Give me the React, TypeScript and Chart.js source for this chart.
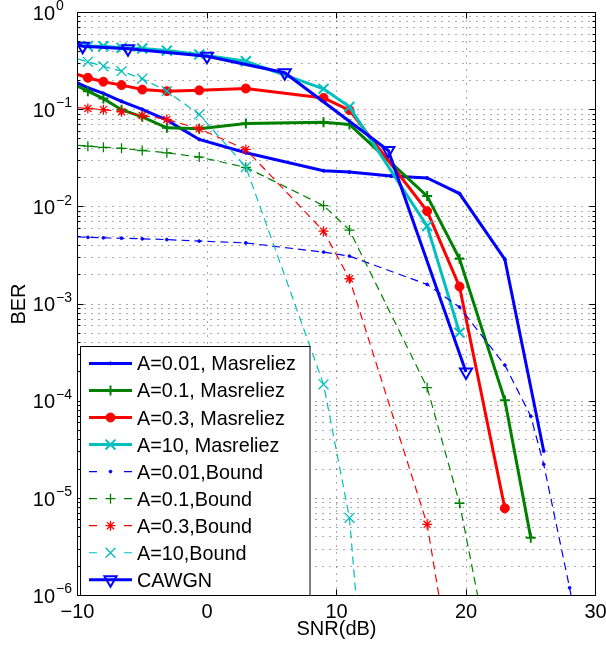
import React, { useEffect, useRef } from 'react';
import { Chart, registerables } from 'chart.js';
import { drawPoint } from 'chart.js/helpers';

Chart.register(...registerables);

// ---------- tick labels ----------
const xTickValues = [-10, 0, 10, 20, 30];
const yDecadeExponents = [0, -1, -2, -3, -4, -5, -6];

// ---------- series data ----------
const snrA001Mas = [-10, -9.2, -8, -6.6, -5, -3.1, -0.6, 3, 9, 11, 14.2, 17, 19.5, 23, 26];
const berA001Mas = [0.189, 0.168, 0.147, 0.122, 0.1005, 0.078, 0.0494, 0.036, 0.0235, 0.0228, 0.0208, 0.0198, 0.0137, 0.00288, 3.07e-5];

const snrA01Mas = [-10, -9.2, -8, -6.6, -5, -3.1, -0.6, 3, 9, 11, 17, 19.5, 23, 25];
const berA01Mas = [0.175, 0.155, 0.13, 0.1, 0.0845, 0.0651, 0.0636, 0.0721, 0.0744, 0.0704, 0.0129, 0.00292, 1.02e-4, 3.94e-6];

const snrA03Mas = [-10, -9.2, -8, -6.6, -5, -3.1, -0.6, 3, 9, 11, 17, 19.5, 23];
const berA03Mas = [0.23, 0.213, 0.194, 0.179, 0.161, 0.155, 0.158, 0.165, 0.132, 0.099, 0.00903, 1.51e-3, 7.9e-6];

const snrA10Mas = [-10, -9.2, -8, -6.6, -5, -3.1, -0.6, 3, 9, 11, 17, 19.5];
const berA10Mas = [0.46, 0.45, 0.45, 0.433, 0.426, 0.406, 0.37, 0.315, 0.164, 0.107, 0.00634, 5.07e-4];

const snrA001Bound = [-10, -9.2, -8, -6.6, -5, -3.1, -0.6, 3, 9, 11, 17, 19.5, 23, 25, 26, 28, 29];
const berA001Bound = [4.9e-3, 4.85e-3, 4.8e-3, 4.75e-3, 4.69e-3, 4.6e-3, 4.44e-3, 4.25e-3, 3.42e-3, 3.11e-3, 1.59e-3, 9.3e-4, 2.35e-4, 7.0e-5, 2.24e-5, 1.2e-6, 2.5e-7];

const snrA01Bound = [-10, -9.2, -8, -6.6, -5, -3.1, -0.6, 3, 9, 11, 17, 19.5, 22];
const berA01Bound = [0.043, 0.0421, 0.041, 0.04, 0.038, 0.036, 0.0325, 0.0255, 0.0103, 5.76e-3, 1.38e-4, 8.9e-6, 1.8e-7];

const snrA03Bound = [-10, -9.2, -8, -6.6, -5, -3.1, -0.6, 3, 9, 11, 17, 19];
const berA03Bound = [0.105, 0.103, 0.1, 0.095, 0.0871, 0.0794, 0.0636, 0.039, 5.62e-3, 1.82e-3, 5.4e-6, 1.3e-7];

const snrA10Bound = [-10, -9.2, -8, -6.6, -5, -3.1, -0.6, 3, 9, 11, 12];
const berA10Bound = [0.333, 0.311, 0.28, 0.249, 0.208, 0.155, 0.0893, 0.0257, 1.49e-4, 6.3e-6, 1.6e-7];

const snrCAWGN = [-10, -9.6, -6.1, 0, 6, 14, 20];
const berCAWGN = [0.47, 0.45, 0.423, 0.355, 0.24, 0.038, 2.0e-4];

const seriesLabels = [
  'A=0.01, Masreliez',
  'A=0.1, Masreliez',
  'A=0.3, Masreliez',
  'A=10, Masreliez',
  'A=0.01,Bound',
  'A=0.1,Bound',
  'A=0.3,Bound',
  'A=10,Bound',
  'CAWGN',
];
const seriesX = [snrA001Mas, snrA01Mas, snrA03Mas, snrA10Mas, snrA001Bound, snrA01Bound, snrA03Bound, snrA10Bound, snrCAWGN];
const seriesY = [berA001Mas, berA01Mas, berA03Mas, berA10Mas, berA001Bound, berA01Bound, berA03Bound, berA10Bound, berCAWGN];

// ---------- styles ----------
const BLUE = '#0000ff';
const GREEN = '#008000';
const RED = '#ff0000';
const CYAN = '#00bfbf';
const FONT = '"Liberation Sans", Arial, Helvetica, sans-serif';

type Style = {
  color: string; width: number; dash: number[]; pointStyle: string; radius: number;
  fill: string; rotation: number; pointWidth: number;
};
const styles: Style[] = [
  { color: BLUE, width: 3, dash: [], pointStyle: 'circle', radius: 1.5, fill: BLUE, rotation: 0, pointWidth: 1 },
  { color: GREEN, width: 3, dash: [], pointStyle: 'cross', radius: 5, fill: GREEN, rotation: 0, pointWidth: 2 },
  { color: RED, width: 3, dash: [], pointStyle: 'circle', radius: 4.5, fill: RED, rotation: 0, pointWidth: 1 },
  { color: CYAN, width: 3, dash: [], pointStyle: 'crossRot', radius: 7, fill: CYAN, rotation: 0, pointWidth: 2 },
  { color: BLUE, width: 1.2, dash: [8, 5], pointStyle: 'circle', radius: 1.4, fill: BLUE, rotation: 0, pointWidth: 1 },
  { color: GREEN, width: 1.2, dash: [8, 5], pointStyle: 'cross', radius: 5, fill: GREEN, rotation: 0, pointWidth: 1.3 },
  { color: RED, width: 1.2, dash: [8, 5], pointStyle: 'star', radius: 5, fill: RED, rotation: 0, pointWidth: 1.3 },
  { color: CYAN, width: 1.2, dash: [8, 5], pointStyle: 'crossRot', radius: 7, fill: CYAN, rotation: 0, pointWidth: 1.3 },
  { color: BLUE, width: 3, dash: [], pointStyle: 'triangle', radius: 7, fill: 'rgba(0,0,0,0)', rotation: 180, pointWidth: 2 },
];

const crisp = (v: number) => Math.floor(v) + 0.5;

const matlabAxes = {
  id: 'matlabAxes',
  beforeDatasetsDraw(chart: any) {
    const { ctx, chartArea: a, scales } = chart;
    const xs = scales.x;
    const ys = scales.y;
    ctx.save();
    // dotted grid
    ctx.strokeStyle = '#555555';
    ctx.lineWidth = 1;
    ctx.setLineDash([1, 6]);
    for (const v of xTickValues) {
      const px = crisp(xs.getPixelForValue(v));
      if (px <= a.left + 1 || px >= a.right - 1) continue;
      ctx.beginPath();
      ctx.moveTo(px, a.bottom);
      ctx.lineTo(px, a.top);
      ctx.stroke();
    }
    const yVals: number[] = [];
    for (const e of yDecadeExponents) {
      for (let m = 1; m <= 9; m++) {
        const v = m * Math.pow(10, e);
        if (v <= 1.0000001) yVals.push(v);
      }
    }
    for (const v of yVals) {
      const py = crisp(ys.getPixelForValue(v));
      if (py <= a.top + 1 || py >= a.bottom - 1) continue;
      ctx.beginPath();
      ctx.moveTo(a.left, py);
      ctx.lineTo(a.right, py);
      ctx.stroke();
    }
    ctx.setLineDash([]);
    // ticks inward
    ctx.strokeStyle = '#000';
    for (const v of xTickValues) {
      const px = crisp(xs.getPixelForValue(v));
      ctx.beginPath();
      ctx.moveTo(px, a.bottom); ctx.lineTo(px, a.bottom - 6);
      ctx.moveTo(px, a.top); ctx.lineTo(px, a.top + 6);
      ctx.stroke();
    }
    for (const v of yVals) {
      const py = crisp(ys.getPixelForValue(v));
      const major = Math.abs(Math.log10(v) - Math.round(Math.log10(v))) < 1e-9;
      const len = major ? 6 : 3;
      ctx.beginPath();
      ctx.moveTo(a.left, py); ctx.lineTo(a.left + len, py);
      ctx.moveTo(a.right, py); ctx.lineTo(a.right - len, py);
      ctx.stroke();
    }
    // box
    ctx.lineWidth = 1;
    ctx.strokeRect(a.left, a.top, a.right - a.left, a.bottom - a.top);
    ctx.restore();
  },
  afterDraw(chart: any) {
    const { ctx, chartArea: a, scales } = chart;
    const xs = scales.x;
    const ys = scales.y;
    ctx.save();
    ctx.fillStyle = '#000';
    // y tick labels 10^e
    for (const e of yDecadeExponents) {
      const py = ys.getPixelForValue(Math.pow(10, e));
      ctx.font = `20px ${FONT}`;
      ctx.textAlign = 'right';
      ctx.textBaseline = 'alphabetic';
      ctx.fillText('10', 55, py + 7.2);
      ctx.font = `14px ${FONT}`;
      ctx.textAlign = 'left';
      ctx.fillText(e === 0 ? '0' : '\u2212' + Math.abs(e), 56, py - 2.3);
    }
    // x tick labels
    ctx.font = `20px ${FONT}`;
    ctx.textAlign = 'center';
    for (const v of xTickValues) {
      const px = xs.getPixelForValue(v);
      const lab = v < 0 ? '\u2212' + Math.abs(v) : String(v);
      ctx.fillText(lab, px, 618.3);
    }
    // axis titles
    ctx.fillText('SNR(dB)', (a.left + a.right) / 2, 634.5);
    ctx.save();
    ctx.translate(25, (a.top + a.bottom) / 2);
    ctx.rotate(-Math.PI / 2);
    ctx.textAlign = 'center';
    ctx.fillText('BER', 0, 0);
    ctx.restore();

    // legend
    const bx = 80.5, by = 346.5, bw = 229.5, bh = 249;
    ctx.fillStyle = '#fff';
    ctx.fillRect(bx - 0.5, by - 0.5, bw + 1, bh + 1);
    ctx.strokeStyle = '#000';
    ctx.lineWidth = 1;
    ctx.setLineDash([]);
    ctx.strokeRect(bx, by, bw, bh);
    const x0 = 89, x1 = 132, xm = (x0 + x1) / 2;
    seriesLabels.forEach((lab, i) => {
      const st = styles[i];
      const ry = 363.4 + i * 27.05;
      ctx.save();
      ctx.strokeStyle = st.color;
      ctx.lineWidth = st.width;
      ctx.setLineDash(st.dash.length ? [8, 27] : []);
      ctx.beginPath();
      ctx.moveTo(x0, ry);
      ctx.lineTo(x1, ry);
      ctx.stroke();
      ctx.setLineDash([]);
      ctx.fillStyle = st.fill;
      ctx.strokeStyle = st.color;
      ctx.lineWidth = st.pointWidth;
      drawPoint(ctx, { pointStyle: st.pointStyle as any, radius: st.radius, rotation: st.rotation, borderWidth: st.pointWidth } as any, xm, ry);
      ctx.restore();
      ctx.fillStyle = '#000';
      ctx.font = `19.8px ${FONT}`;
      ctx.textAlign = 'left';
      ctx.textBaseline = 'alphabetic';
      ctx.fillText(lab, 137, ry + 7);
    });
    ctx.restore();
  },
};

export default function App() {
  const ref = useRef<HTMLCanvasElement | null>(null);
  useEffect(() => {
    if (!ref.current) return;
    const n = seriesLabels.length;
    const datasets = seriesLabels.map((label, i) => {
      const st = styles[i];
      return {
        label,
        data: seriesX[i].map((x, j) => ({ x, y: seriesY[i][j] })),
        borderColor: st.color,
        backgroundColor: st.color,
        borderWidth: st.width,
        borderDash: st.dash,
        pointStyle: st.pointStyle,
        pointRadius: (c: any) => (c.raw && c.raw.x <= -10 ? 0 : st.radius),
        pointHoverRadius: 0,
        pointRotation: st.rotation,
        pointBorderColor: st.color,
        pointBackgroundColor: st.fill,
        pointBorderWidth: st.pointWidth,
        tension: 0,
        fill: false,
        clip: 0,
        order: n - i,
      };
    });
    const chart = new Chart(ref.current, {
      type: 'line',
      data: { datasets } as any,
      options: {
        animation: false,
        responsive: false,
        devicePixelRatio: 1,
        layout: { padding: { left: 0, top: 12.5, right: 10.5, bottom: 0 } },
        plugins: { legend: { display: false }, tooltip: { enabled: false } },
        events: [],
        scales: {
          x: {
            type: 'linear',
            min: -10,
            max: 30,
            ticks: { display: false, stepSize: 10 },
            grid: { display: false },
            border: { display: false },
            afterFit: (s: any) => { s.height = 52.5; },
          },
          y: {
            type: 'logarithmic',
            min: 1e-6,
            max: 1,
            ticks: { display: false },
            grid: { display: false },
            border: { display: false },
            afterFit: (s: any) => { s.width = 77.5; },
          },
        },
      } as any,
      plugins: [matlabAxes],
    });
    return () => chart.destroy();
  }, []);
  return (
    <div style={{ position: 'fixed', left: 0, top: 0, width: 606, height: 648, background: '#fff' }}>
      <canvas ref={ref} width={606} height={648} style={{ display: 'block', width: 606, height: 648 }} />
    </div>
  );
}
